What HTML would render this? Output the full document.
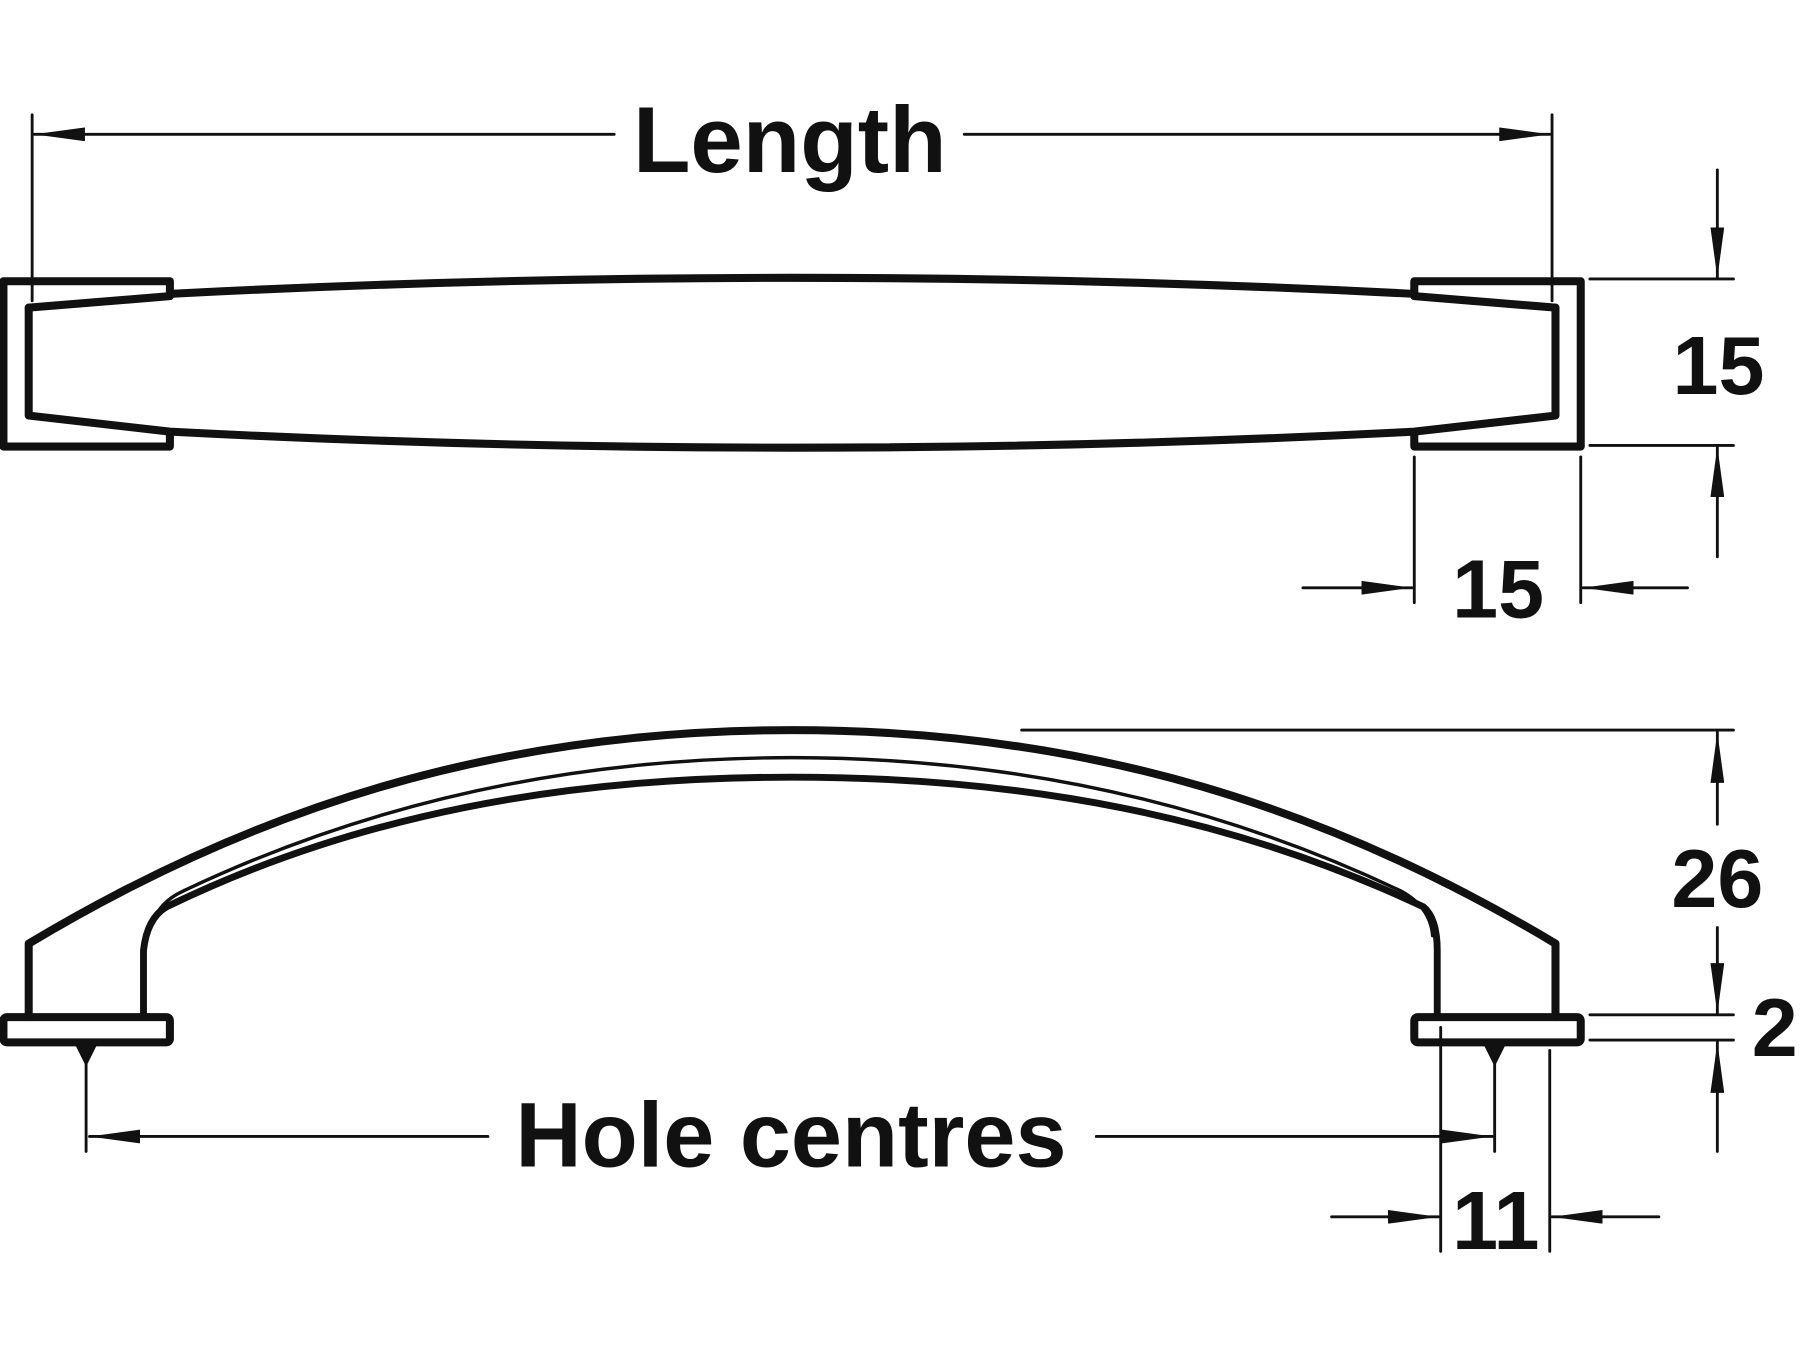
<!DOCTYPE html>
<html><head><style>html,body{margin:0;padding:0;background:#fff}svg{display:block}</style></head>
<body>
<svg width="1800" height="1350" viewBox="0 0 1568 1176" preserveAspectRatio="none" xmlns="http://www.w3.org/2000/svg">
<defs>
<marker id="a" viewBox="0 0 44 12" refX="44" refY="6" markerWidth="44" markerHeight="12" markerUnits="userSpaceOnUse" orient="auto"><path d="M0,0 L44,6 L0,12 Z" fill="#111"/></marker>
</defs>
<g fill="none" stroke="#111" stroke-linecap="round" stroke-linejoin="round">
<!-- top view -->
<g stroke-width="7">
<path d="M148,256 L148,245 L3,245 L3,389 L148,389 L148,377"/>
<path d="M1232,256 L1232,245 L1377,245 L1377,389 L1232,389 L1232,377"/>
<path d="M148,256 Q690,228 1232,256"/>
<path d="M25,268 L148,258"/><path d="M1355,268 L1232,258"/>
<path d="M25,268 L25,362 L148,376 Q690,404 1232,376 L1355,362 L1355,268"/>
</g>
<g stroke-width="2.5">
<line x1="28" y1="100" x2="28" y2="262"/><line x1="1352" y1="100" x2="1352" y2="262"/>
<line x1="535" y1="117" x2="30" y2="117" marker-end="url(#a)"/>
<line x1="840" y1="117" x2="1350" y2="117" marker-end="url(#a)"/>
<line x1="1385" y1="243" x2="1510" y2="243"/><line x1="1385" y1="388" x2="1510" y2="388"/>
<line x1="1496" y1="148" x2="1496" y2="242" marker-end="url(#a)"/>
<line x1="1496" y1="485" x2="1496" y2="389" marker-end="url(#a)"/>
<line x1="1232" y1="398" x2="1232" y2="525"/><line x1="1377" y1="398" x2="1377" y2="525"/>
<line x1="1135" y1="512" x2="1230" y2="512" marker-end="url(#a)"/>
<line x1="1470" y1="512" x2="1379" y2="512" marker-end="url(#a)"/>
</g>
<!-- side view -->
<g stroke-width="7">
<path d="M25,886 L25,822 C220,705 430,636 690,636 C950,636 1160,705 1355,822 L1355,886"/>
<path d="M125,886 L125,828 Q128,800 145,790 C310,710 490,677 690,677 C890,677 1070,710 1240,790 Q1252,800 1252,828 L1252,886" stroke-width="6"/>
<rect x="3" y="886" width="145" height="22" rx="3"/>
<rect x="1232" y="886" width="145" height="22" rx="3"/>
</g>
<path d="M133,805 Q138,786 160,776 C320,700 495,660 690,660 C885,660 1060,700 1220,776 Q1246,790 1248,815" stroke-width="3"/>
<path d="M66,910 L84,910 L75,928 Z M1293,910 L1311,910 L1302,928 Z" fill="#111" stroke-width="1"/>
<g stroke-width="2.5">
<line x1="75" y1="920" x2="75" y2="1003"/>
<line x1="1302" y1="920" x2="1302" y2="1003"/>
<line x1="425" y1="990" x2="78" y2="990" marker-end="url(#a)"/>
<line x1="955" y1="990" x2="1300" y2="990" marker-end="url(#a)"/>
<line x1="1255" y1="895" x2="1255" y2="1090"/><line x1="1350" y1="915" x2="1350" y2="1090"/>
<line x1="1160" y1="1060" x2="1253" y2="1060" marker-end="url(#a)"/>
<line x1="1445" y1="1060" x2="1352" y2="1060" marker-end="url(#a)"/>
<line x1="890" y1="636" x2="1510" y2="636"/>
<line x1="1385" y1="884" x2="1510" y2="884"/><line x1="1385" y1="906" x2="1510" y2="906"/>
<line x1="1496" y1="718" x2="1496" y2="638" marker-end="url(#a)"/>
<line x1="1496" y1="808" x2="1496" y2="883" marker-end="url(#a)"/>
<line x1="1496" y1="1003" x2="1496" y2="908" marker-end="url(#a)"/>
</g>
</g>
<g font-family="Liberation Sans, sans-serif" font-weight="bold" fill="#111" text-anchor="middle">
<text x="688" y="150" font-size="82">Length</text>
<text x="1497" y="343" font-size="72">15</text>
<text x="1305" y="538" font-size="72">15</text>
<text x="1496" y="790" font-size="72">26</text>
<text x="1546" y="920" font-size="72">2</text>
<text x="689" y="1016" font-size="80">Hole centres</text>
<text x="1303" y="1088" font-size="72">11</text>
</g>
</svg>
</body></html>
